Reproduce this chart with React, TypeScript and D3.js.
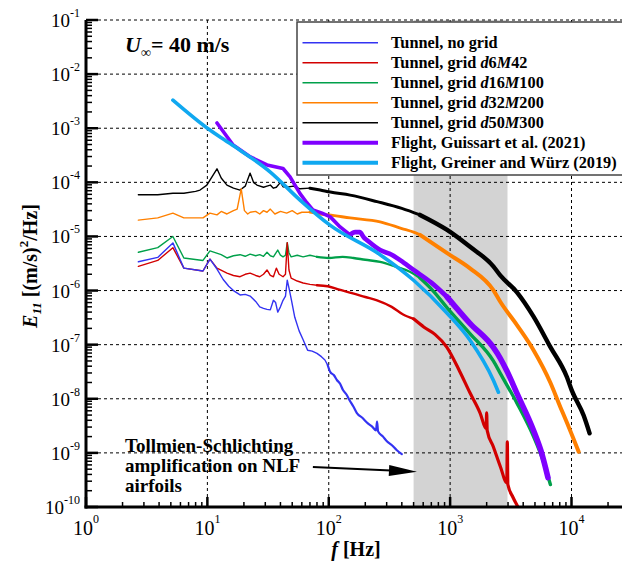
import React from 'react';
import * as d3 from 'd3';

const FONT = '"Liberation Serif", "Times New Roman", serif';

// ---------- data (frequency [Hz], E11 [(m/s)^2/Hz]) ----------
const fNoGrid = [2.7, 3.9, 5.2, 6.4, 9.2, 10.5, 12, 13.5, 15, 16.4, 18.6, 20.5, 22.5, 25, 27, 29, 31, 33, 35, 36.5, 38, 40, 42, 44, 45.5, 47, 49, 52.5, 57, 61.5, 67, 73, 80, 87, 93, 98, 103, 110, 117, 124, 131, 140, 148, 160, 170, 190, 210, 230, 245, 250, 255, 280, 300, 330, 364, 400];
const eNoGrid = [3.4e-6, 4.1e-6, 7.6e-6, 2.6e-6, 2.3e-6, 3.8e-6, 2.5e-6, 1.6e-6, 1.2e-6, 1.0e-6, 8.3e-7, 8.5e-7, 7.9e-7, 6.3e-7, 5.0e-7, 4.7e-7, 4.5e-7, 4.4e-7, 6.6e-7, 6.0e-7, 4.0e-7, 5.0e-7, 6.6e-7, 7.9e-7, 1.55e-6, 1.12e-6, 7.1e-7, 3.2e-7, 1.8e-7, 1.23e-7, 7.9e-8, 7.6e-8, 6.9e-8, 6.0e-8, 5.2e-8, 4.2e-8, 3.1e-8, 2.75e-8, 2.2e-8, 1.9e-8, 1.45e-8, 1.2e-8, 9.5e-9, 7.1e-9, 5.5e-9, 4.4e-9, 3.5e-9, 3.0e-9, 2.6e-9, 3.8e-9, 2.5e-9, 2.0e-9, 1.66e-9, 1.4e-9, 1.12e-9, 9.5e-10];

const fD6M42 = [2.7, 3.9, 5.2, 6.4, 9.2, 10.5, 12, 14.5, 16.4, 18.6, 20.5, 22.5, 25, 27, 29, 31, 33, 35, 37, 39, 42, 44, 45.5, 47, 49, 55, 61.5, 70, 80, 98, 120, 158, 200, 250, 330, 410, 500, 610, 750, 935, 1200, 1450, 1770, 1980, 2000, 2020, 2270, 2600, 2930, 2960, 2990, 3300, 3620, 3800];
const eD6M42 = [2.8e-6, 3.6e-6, 6.2e-6, 2.6e-6, 2.3e-6, 3.8e-6, 2.6e-6, 2.1e-6, 1.9e-6, 1.8e-6, 2.0e-6, 2.1e-6, 1.9e-6, 1.8e-6, 2.0e-6, 2.4e-6, 1.9e-6, 1.8e-6, 2.6e-6, 2.0e-6, 1.8e-6, 2.0e-6, 7.7e-6, 2.4e-6, 1.7e-6, 1.5e-6, 1.38e-6, 1.3e-6, 1.25e-6, 1.2e-6, 1.05e-6, 8.9e-7, 7.6e-7, 6.6e-7, 5.0e-7, 3.6e-7, 3.0e-7, 2.1e-7, 1.55e-7, 9.1e-8, 3.2e-8, 1.32e-8, 5.4e-9, 2.8e-9, 5.5e-9, 2.6e-9, 1.3e-9, 5.5e-10, 2.8e-10, 1.6e-9, 2.6e-10, 1.5e-10, 1.0e-10, 8e-11];

const fD16M100 = [2.7, 3.9, 5.2, 6.4, 9.2, 10.5, 13, 14.5, 16.4, 18.6, 20.5, 22.5, 25, 27, 29, 31, 33, 35, 38, 40, 42, 44, 45.5, 47, 49, 55, 61.5, 70, 80, 100, 130, 160, 200, 265, 350, 470, 565, 720, 945, 1450, 2270, 2590, 3555, 4870, 5870, 6700];
const eD16M100 = [5.1e-6, 6.2e-6, 1.0e-5, 4.0e-6, 3.6e-6, 5.4e-6, 4.6e-6, 4.0e-6, 4.4e-6, 4.6e-6, 4.3e-6, 4.7e-6, 4.4e-6, 4.6e-6, 4.3e-6, 5.1e-6, 4.4e-6, 4.2e-6, 5.6e-6, 4.5e-6, 4.2e-6, 4.5e-6, 7.7e-6, 5.0e-6, 4.2e-6, 4.5e-6, 4.2e-6, 4.5e-6, 4.2e-6, 4.0e-6, 4.2e-6, 4.0e-6, 3.7e-6, 3.4e-6, 2.8e-6, 2.2e-6, 1.7e-6, 1.0e-6, 4.8e-7, 1.62e-7, 5.0e-8, 2.95e-8, 8.3e-9, 2.0e-9, 6.9e-10, 2.6e-10];

const fD32M200 = [2.7, 3.9, 5.2, 6.4, 9.2, 10.5, 12, 13, 14.5, 16.4, 17.6, 19, 20.2, 21.5, 22.5, 25, 27, 29, 31, 33, 36, 40, 45, 50, 55, 60, 70, 85, 100, 150, 265, 400, 500, 565, 945, 1450, 2270, 2590, 3555, 4870, 6690, 8100, 9180, 11450];
const eD32M200 = [2.0e-5, 2.2e-5, 2.7e-5, 2.2e-5, 2.2e-5, 2.7e-5, 2.5e-5, 2.9e-5, 2.6e-5, 3.0e-5, 3.2e-5, 7.6e-5, 3.0e-5, 2.6e-5, 2.8e-5, 2.9e-5, 2.6e-5, 3.0e-5, 2.8e-5, 3.2e-5, 2.6e-5, 2.9e-5, 2.7e-5, 3.0e-5, 2.6e-5, 2.8e-5, 2.8e-5, 2.6e-5, 2.5e-5, 2.2e-5, 1.86e-5, 1.4e-5, 1.2e-5, 1.07e-5, 4.9e-6, 2.6e-6, 1.02e-6, 6.2e-7, 2.3e-7, 7.9e-8, 2.0e-8, 7.0e-9, 3.6e-9, 1.05e-9];

const fD50M300 = [2.7, 3.9, 5.2, 6.4, 8.0, 8.7, 9.9, 12, 13, 14.5, 16.4, 18.6, 20.5, 22.5, 24, 25.6, 29, 31, 33, 35, 37, 40, 42, 45, 51, 58, 70, 85, 103, 150, 250, 400, 565, 945, 1450, 2270, 2590, 3555, 4870, 6690, 9180, 10090, 12600, 14100];
const eD50M300 = [5.9e-5, 5.9e-5, 6.3e-5, 6.3e-5, 6.8e-5, 7.2e-5, 8.9e-5, 1.78e-4, 1.2e-4, 8.9e-5, 7.8e-5, 7.2e-5, 8.5e-5, 1.48e-4, 1.0e-4, 8.9e-5, 8.1e-5, 8.5e-5, 8.9e-5, 7.8e-5, 8.1e-5, 1.0e-4, 8.3e-5, 8.1e-5, 8.5e-5, 7.6e-5, 7.8e-5, 7.2e-5, 6.6e-5, 5.8e-5, 4.4e-5, 3.3e-5, 2.5e-5, 1.32e-5, 6.5e-6, 2.8e-6, 1.9e-6, 9.3e-7, 3.3e-7, 9.1e-8, 2.5e-8, 1.4e-8, 4.9e-9, 2.3e-9];

const fGuissart = [12, 16.3, 22.6, 31, 42, 48, 58, 66, 74, 88, 103, 124, 150, 165, 180, 195, 207, 265, 330, 390, 500, 700, 945, 1450, 2270, 2590, 2950, 3555, 4870, 5600, 6400];
const eGuissart = [1.25e-3, 4.9e-4, 2.95e-4, 2.1e-4, 1.8e-4, 1.26e-4, 6.2e-5, 4.2e-5, 3.1e-5, 2.7e-5, 2.3e-5, 1.5e-5, 1.07e-5, 1.2e-5, 1.2e-5, 9.5e-6, 8.5e-6, 5.6e-6, 4.6e-6, 3.6e-6, 2.4e-6, 1.4e-6, 7.6e-7, 2.5e-7, 8.9e-8, 5.6e-8, 3.2e-8, 1.26e-8, 2.6e-9, 1.1e-9, 3.5e-10];

const fGreiner = [5.2, 10, 15.4, 33, 58, 103, 265, 500, 945, 1450, 2270, 2500];
const eGreiner = [3.3e-3, 1.0e-3, 5.2e-4, 1.55e-4, 4.7e-5, 1.6e-5, 4.6e-6, 1.55e-6, 3.8e-7, 1.23e-7, 2.2e-8, 1.32e-8];

const xTickExps = [0, 1, 2, 3, 4];
const yTickExps = [-10, -9, -8, -7, -6, -5, -4, -3, -2, -1];
const tsBand = [500, 2970];
const arrowFrom = [74, 5.5e-10];
const arrowTo = [533, 4.5e-10];
const annotationLines = ['Tollmien-Schlichting', 'amplification on NLF', 'airfoils'];

type Part = [string, boolean];
const legendLabels: Part[][] = [
  [['Tunnel, no grid', false]],
  [['Tunnel, grid ', false], ['d', true], ['6', false], ['M', true], ['42', false]],
  [['Tunnel, grid ', false], ['d', true], ['16', false], ['M', true], ['100', false]],
  [['Tunnel, grid ', false], ['d', true], ['32', false], ['M', true], ['200', false]],
  [['Tunnel, grid ', false], ['d', true], ['50', false], ['M', true], ['300', false]],
  [['Flight, Guissart et al. (2021)', false]],
  [['Flight, Greiner and Würz (2019)', false]],
];

// ---------- layout ----------
const W = 622, H = 562;
const X0 = 86, X1 = 622, Y0 = 20, Y1 = 507;
const x = d3.scaleLog().domain([1, 1e4]).range([X0, 571.5]);
const y = d3.scaleLog().domain([1e-10, 1e-1]).range([Y1, Y0]);

interface Series { key: string; f: number[]; e: number[]; color: string; widths: number[]; breaks: number[]; legendW: number; smooth?: boolean; }
const series: Series[] = [
  { key: 'noGrid', f: fNoGrid, e: eNoGrid, color: '#3333f2', widths: [1.4, 2.2], breaks: [100], legendW: 1.6 },
  { key: 'd6', f: fD6M42, e: eD6M42, color: '#d20000', widths: [1.4, 2.4, 3.2], breaks: [80, 600], legendW: 1.6 },
  { key: 'd16', f: fD16M100, e: eD16M100, color: '#00a04a', widths: [1.4, 2.4, 3.4], breaks: [80, 600], legendW: 1.6 },
  { key: 'd32', f: fD32M200, e: eD32M200, color: '#ff8000', widths: [1.4, 2.8, 4.0], breaks: [80, 600], legendW: 1.6 },
  { key: 'd50', f: fD50M300, e: eD50M300, color: '#000000', widths: [1.4, 3.0, 4.4], breaks: [80, 600], legendW: 1.6 },
  { key: 'guissart', f: fGuissart, e: eGuissart, color: '#7f00ff', widths: [3.6, 4.6, 5.6], breaks: [150, 1000], legendW: 4 },
  { key: 'greiner', f: fGreiner, e: eGreiner, color: '#10a8f0', widths: [3.6], breaks: [], legendW: 4, smooth: true },
];
const drawOrder = ['d50', 'd32', 'd16', 'd6', 'noGrid', 'guissart', 'greiner'];

function pieces(s: Series) {
  const out: { level: number; pts: [number, number][] }[] = [];
  let level = 0;
  let cur: [number, number][] = [];
  s.f.forEach((f, i) => {
    const p: [number, number] = [x(f), y(s.e[i])];
    const lv = s.breaks.filter((b) => f > b).length;
    if (lv !== level) {
      if (cur.length > 1) out.push({ level, pts: cur });
      cur = cur.length ? [cur[cur.length - 1]] : [];
      level = lv;
    }
    cur.push(p);
  });
  if (cur.length > 1) out.push({ level, pts: cur });
  return out;
}

const lineLin = d3.line<[number, number]>().curve(d3.curveLinear);
const lineSmooth = d3.line<[number, number]>().curve(d3.curveMonotoneX);

function Pow({ base, exp, size, supSize, dy }: { base: string; exp: string; size: number; supSize: number; dy: number }) {
  return (
    <>
      <tspan fontSize={size}>{base}</tspan>
      <tspan fontSize={supSize} dy={dy}>{exp}</tspan>
    </>
  );
}

export default function App() {
  const minorX: number[] = [];
  for (let d = 0; d <= 4; d++) for (let m = 2; m <= 9; m++) { const v = m * Math.pow(10, d); if (x(v) <= X1) minorX.push(v); }
  const minorY: number[] = [];
  for (let d = -10; d < -1; d++) for (let m = 2; m <= 9; m++) minorY.push(m * Math.pow(10, d));

  const ax = x(arrowFrom[0]), ay = y(arrowFrom[1]);
  const bx = x(arrowTo[0]), by = y(arrowTo[1]);
  const ang = Math.atan2(by - ay, bx - ax);
  const hl = 28, hw = 5.5;
  const hx = bx - hl * Math.cos(ang), hy = by - hl * Math.sin(ang);
  const px = -Math.sin(ang) * hw, py = Math.cos(ang) * hw;

  return (
    <svg width={W} height={H} style={{ position: 'absolute', left: 0, top: 0, background: '#fff' }} fontFamily={FONT}>
      <defs>
        <clipPath id="plot"><rect x={X0} y={Y0} width={X1 - X0} height={Y1 - Y0} /></clipPath>
      </defs>
      {/* band */}
      <rect x={x(tsBand[0])} y={Y0} width={x(tsBand[1]) - x(tsBand[0])} height={Y1 - Y0} fill="#d3d3d3" />
      {/* grid */}
      <g stroke="#000" strokeWidth={1} strokeDasharray="3,3">
        {yTickExps.filter((e) => e > -10).map((e) => (
          <line key={'gy' + e} x1={X0} x2={X1} y1={y(Math.pow(10, e))} y2={y(Math.pow(10, e))} />
        ))}
        {xTickExps.filter((e) => e > 0).map((e) => (
          <line key={'gx' + e} x1={x(Math.pow(10, e))} x2={x(Math.pow(10, e))} y1={Y0} y2={Y1} />
        ))}
      </g>
      {/* curves */}
      <g clipPath="url(#plot)" fill="none" strokeLinejoin="round" strokeLinecap="round">
        {drawOrder.map((k) => {
          const s = series.find((q) => q.key === k)!;
          return (
            <g key={k} stroke={s.color}>
              {pieces(s).map((pc, i) => (
                <path key={i} d={(s.smooth || pc.level > 0 ? lineSmooth : lineLin)(pc.pts) || ''} strokeWidth={s.widths[pc.level]} />
              ))}
            </g>
          );
        })}
      </g>
      {/* legend */}
      <g>
        <rect x={297} y={22} width={340} height={153} fill="#fff" stroke="#444" strokeWidth={1.5} />
        {series.map((s, i) => {
          const ly = 42.7 + i * 20;
          return (
            <g key={'lg' + s.key}>
              <line x1={302.5} x2={378} y1={ly} y2={ly} stroke={s.color} strokeWidth={s.legendW} />
              <text x={391} y={ly + 5} fontSize={16.3} fontWeight="bold" fill="#000">
                {legendLabels[i].map(([t, it], j) => (
                  <tspan key={j} fontStyle={it ? 'italic' : 'normal'}>{t}</tspan>
                ))}
              </text>
            </g>
          );
        })}
      </g>
      {/* axes */}
      <g stroke="#000">
        <line x1={X0} x2={X0} y1={Y0} y2={Y1 + 1.5} strokeWidth={3} />
        <line x1={X0 - 1.5} x2={X1} y1={Y1} y2={Y1} strokeWidth={3} />
        {yTickExps.map((e) => (
          <line key={'ty' + e} x1={X0} x2={X0 + 12} y1={y(Math.pow(10, e))} y2={y(Math.pow(10, e))} strokeWidth={2.5} />
        ))}
        {minorY.map((v, i) => (
          <line key={'my' + i} x1={X0} x2={X0 + 6} y1={y(v)} y2={y(v)} strokeWidth={1.5} />
        ))}
        {xTickExps.map((e) => (
          <line key={'tx' + e} x1={x(Math.pow(10, e))} x2={x(Math.pow(10, e))} y1={Y1} y2={Y1 - 10} strokeWidth={2.5} />
        ))}
        {minorX.map((v, i) => (
          <line key={'mx' + i} x1={x(v)} x2={x(v)} y1={Y1} y2={Y1 - 5} strokeWidth={1.5} />
        ))}
      </g>
      {/* tick labels */}
      <g fill="#000">
        {yTickExps.map((e) => (
          <text key={'ly' + e} x={80} y={y(Math.pow(10, e)) + 7} textAnchor="end">
            <Pow base="10" exp={String(e)} size={19} supSize={12} dy={-10} />
          </text>
        ))}
        {xTickExps.map((e) => (
          <text key={'lx' + e} x={x(Math.pow(10, e))} y={535} textAnchor="middle">
            <Pow base="10" exp={String(e)} size={20} supSize={12} dy={-12} />
          </text>
        ))}
      </g>
      {/* axis titles */}
      <text x={356} y={556} textAnchor="middle" fontSize={20} fontWeight="bold">
        <tspan fontStyle="italic">f</tspan>
        <tspan> [Hz]</tspan>
      </text>
      <text transform="translate(37,266) rotate(-90)" textAnchor="middle" fontSize={20} fontWeight="bold">
        <tspan fontStyle="italic">E</tspan>
        <tspan fontStyle="italic" fontSize={13} dy={4}>11</tspan>
        <tspan dy={-4}> [(m/s)</tspan>
        <tspan fontSize={13} dy={-9}>2</tspan>
        <tspan dy={9}>/Hz]</tspan>
      </text>
      {/* U_inf */}
      <text x={125} y={52} fontSize={22} fontWeight="bold">
        <tspan fontStyle="italic">U</tspan>
        <tspan fontSize={14} dy={5}>∞</tspan>
        <tspan dy={-5}>= 40 m/s</tspan>
      </text>
      {/* annotation */}
      <text fontSize={19} fontWeight="bold">
        {annotationLines.map((t, i) => (
          <tspan key={i} x={125} y={452 + i * 19.8}>{t}</tspan>
        ))}
      </text>
      <line x1={ax} y1={ay} x2={hx + 2 * Math.cos(ang)} y2={hy + 2 * Math.sin(ang)} stroke="#000" strokeWidth={2} />
      <polygon points={`${bx},${by} ${hx + px},${hy + py} ${hx - px},${hy - py}`} fill="#000" />
    </svg>
  );
}
